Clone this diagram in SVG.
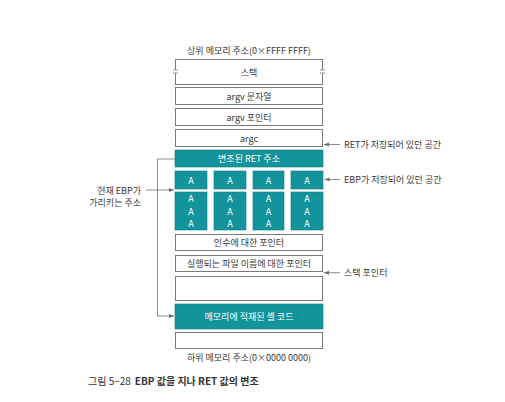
<svg xmlns="http://www.w3.org/2000/svg" width="505" height="402" viewBox="0 0 505 402">
<defs>
<style>
.box{fill:#fff;stroke:#7a7a7a;stroke-width:1}
.teal{fill:#13939b;stroke:#0d7c83;stroke-width:0.6}
.t{font-family:"Noto Sans CJK KR","Noto Sans",sans-serif;font-size:9px;fill:#3a3a3a;text-anchor:middle;dominant-baseline:central}
.tw{font-family:"Noto Sans CJK KR","Noto Sans",sans-serif;font-size:9px;fill:#ffffff;text-anchor:middle;dominant-baseline:central}
.lbl{font-family:"Noto Sans CJK KR","Noto Sans",sans-serif;font-size:9px;fill:#3a3a3a;dominant-baseline:central}
.ln{fill:none;stroke:#6e6e6e;stroke-width:0.8}
</style>
<marker id="ah" markerWidth="6" markerHeight="6" refX="5" refY="3" orient="auto" markerUnits="userSpaceOnUse">
<path d="M0,1 L5,3 L0,5 Z" fill="#6e6e6e"/>
</marker>
</defs>
<rect width="505" height="402" fill="#fff"/>

<text class="t" x="249" y="50">상위 메모리 주소(0×FFFF FFFF)</text>

<g id="stack">
<rect class="box" x="175.5" y="59.5" width="147" height="25"/>
<line x1="175.5" y1="70" x2="175.5" y2="73" stroke="#fff" stroke-width="2"/>
<line x1="322.5" y1="70" x2="322.5" y2="73" stroke="#fff" stroke-width="2"/>
<line x1="173" y1="70" x2="178" y2="70" stroke="#7a7a7a" stroke-width="0.8"/>
<line x1="173" y1="73" x2="178" y2="73" stroke="#7a7a7a" stroke-width="0.8"/>
<line x1="320" y1="70" x2="325" y2="70" stroke="#7a7a7a" stroke-width="0.8"/>
<line x1="320" y1="73" x2="325" y2="73" stroke="#7a7a7a" stroke-width="0.8"/>
<text class="t" x="249" y="72">스택</text>
</g>

<g id="argv-str">
<rect class="box" x="175.5" y="87.5" width="147" height="17"/>
<text class="t" x="249" y="96">argv 문자열</text>
</g>

<g id="argv-ptr">
<rect class="box" x="175.5" y="108.5" width="147" height="17"/>
<text class="t" x="249" y="117">argv 포인터</text>
</g>

<g id="argc">
<rect class="box" x="175.5" y="129.5" width="147" height="17"/>
<text class="t" x="249" y="138">argc</text>
</g>

<g id="ret">
<rect class="teal" x="175" y="150" width="148" height="17"/>
<text class="tw" x="249" y="158.5">변조된 RET 주소</text>
</g>

<g id="ebp-row">
<rect class="teal" x="175" y="171" width="32" height="18"/>
<rect class="teal" x="214" y="171" width="32" height="18"/>
<rect class="teal" x="253" y="171" width="31" height="18"/>
<rect class="teal" x="291" y="171" width="32" height="18"/>
<text class="tw" x="191" y="180">A</text>
<text class="tw" x="230" y="180">A</text>
<text class="tw" x="268.5" y="180">A</text>
<text class="tw" x="307" y="180">A</text>
</g>

<g id="buffer">
<rect class="teal" x="175" y="192" width="32" height="38"/>
<rect class="teal" x="214" y="192" width="32" height="38"/>
<rect class="teal" x="253" y="192" width="31" height="38"/>
<rect class="teal" x="291" y="192" width="32" height="38"/>
<text class="tw" x="191" y="198.5">A</text><text class="tw" x="191" y="211">A</text><text class="tw" x="191" y="223.5">A</text>
<text class="tw" x="230" y="198.5">A</text><text class="tw" x="230" y="211">A</text><text class="tw" x="230" y="223.5">A</text>
<text class="tw" x="268.5" y="198.5">A</text><text class="tw" x="268.5" y="211">A</text><text class="tw" x="268.5" y="223.5">A</text>
<text class="tw" x="307" y="198.5">A</text><text class="tw" x="307" y="211">A</text><text class="tw" x="307" y="223.5">A</text>
</g>

<g id="arg-ptr">
<rect class="box" x="175.5" y="234.5" width="147" height="16"/>
<text class="t" x="249" y="242.5">인수에 대한 포인터</text>
</g>

<g id="file-ptr">
<rect class="box" x="175.5" y="255.5" width="147" height="16"/>
<text class="t" x="249" y="263.5">실행되는 파일 이름에 대한 포인터</text>
</g>

<g id="empty1">
<rect class="box" x="175.5" y="276.5" width="147" height="24"/>
</g>

<g id="shellcode">
<rect class="teal" x="175" y="304" width="148" height="25"/>
<text class="tw" x="249" y="316.5">메모리에 적재된 셸 코드</text>
</g>

<g id="empty2">
<rect class="box" x="175.5" y="332.5" width="147" height="16"/>
</g>

<text class="t" x="249" y="357.5">하위 메모리 주소(0×0000 0000)</text>

<g id="labels">
<text class="lbl" x="344" y="144.5">RET가 저장되어 있던 공간</text>
<text class="lbl" x="344" y="179.5">EBP가 저장되어 있던 공간</text>
<text class="lbl" x="344" y="272.5">스택 포인터</text>
<text class="lbl" x="141" y="190" text-anchor="end">현재 EBP가</text>
<text class="lbl" x="141" y="202.5" text-anchor="end">가리키는 주소</text>
</g>

<g id="connectors">
<line class="ln" x1="340" y1="144.5" x2="324" y2="144.5" marker-end="url(#ah)"/>
<line class="ln" x1="340" y1="179.5" x2="324.5" y2="179.5" marker-end="url(#ah)"/>
<line class="ln" x1="340" y1="272.7" x2="324" y2="272.7" marker-end="url(#ah)"/>
<line class="ln" x1="146" y1="190" x2="174" y2="190" marker-end="url(#ah)"/>
<path class="ln" d="M175,159 H157.5 V316 H174" marker-end="url(#ah)"/>
</g>

<text x="88" y="380" font-family="'Noto Sans CJK KR','Noto Sans',sans-serif" font-size="10px" fill="#333" dominant-baseline="central"><tspan>그림 5−28</tspan><tspan dx="4" font-weight="bold">EBP 값을 지나 RET 값의 변조</tspan></text>
</svg>
